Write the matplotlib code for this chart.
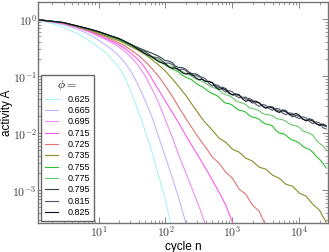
import matplotlib
matplotlib.use("Agg")
import matplotlib.pyplot as plt
from matplotlib.ticker import FuncFormatter
import numpy as np

plt.rcParams['mathtext.fontset'] = 'cm'
plt.rcParams['font.family'] = ['Liberation Sans', 'DejaVu Sans']

# cycle numbers (coarse grid, 10 per decade)
cycles = [1, 2, 3, 5, 7,
          10, 12.6, 15.8, 20, 25.1, 31.6, 39.8, 50.1, 63.1, 79.4,
          100, 126, 158, 200, 251, 316, 398, 501, 631, 794,
          1000, 1259, 1585, 1995, 2512, 3162, 3981, 5012, 6310, 7943,
          10000, 12589, 15849, 19953, 25119]
# finer grid (20 per decade after n=100) for the noisy curves
cycles_dense = [1, 2, 3, 5, 7,
                10, 12.6, 15.8, 20, 25.1, 31.6, 39.8, 50.1, 63.1, 79.4,
                100, 112, 126, 141, 158, 178, 200, 224, 251, 282, 316, 355,
                398, 447, 501, 562, 631, 708, 794, 891, 1000, 1122, 1259,
                1413, 1585, 1778, 1995, 2239, 2512, 2818, 3162, 3548, 3981,
                4467, 5012, 5623, 6310, 7079, 7943, 8913, 10000, 11220,
                12589, 14125, 15849, 17783, 19953, 22387, 25119]

phi_labels = ['0.625', '0.665', '0.695', '0.715', '0.725', '0.735',
              '0.755', '0.775', '0.795', '0.815', '0.825']

A_0625 = [1.0, 0.85, 0.72, 0.545, 0.428,
          0.323, 0.264, 0.199, 0.144, 0.0923, 0.0483, 0.0233, 0.0108, 0.00464,
          0.00176, 0.000668, 0.000199]
A_0665 = [1.0, 0.88, 0.80, 0.66, 0.55,
          0.428, 0.357, 0.292, 0.229, 0.169, 0.113, 0.0668, 0.0364, 0.0191,
          0.00851, 0.00379, 0.00169, 0.000724, 0.000275, 0.0000886]
A_0695 = [1.0, 0.90, 0.83, 0.70, 0.61,
          0.503, 0.446, 0.387, 0.329, 0.269, 0.207, 0.150, 0.100, 0.0591,
          0.0336, 0.0169, 0.00851, 0.00411, 0.00207, 0.00104, 0.000524,
          0.000243, 0.000108]
A_0715 = [1.0, 0.905, 0.84, 0.71, 0.62,
          0.524, 0.464, 0.411, 0.357, 0.304, 0.243, 0.191, 0.138, 0.0886,
          0.0568, 0.0364, 0.0233, 0.0150, 0.00923, 0.00592, 0.00379, 0.00243,
          0.00150, 0.000923, 0.000546, 0.000275, 0.000133]
A_0725 = [1.0, 0.91, 0.85, 0.72, 0.64,
          0.545, 0.493, 0.437, 0.387, 0.336, 0.280, 0.229, 0.180, 0.135,
          0.0981, 0.0668, 0.0446, 0.0286, 0.0183, 0.0122, 0.00817, 0.00568,
          0.00379, 0.00298, 0.00207, 0.00162, 0.00104, 0.000851, 0.000546,
          0.000428, 0.000234]
A_0735 = [1.0, 0.915, 0.86, 0.73, 0.655,
          0.568, 0.514, 0.464, 0.420, 0.372, 0.323, 0.280, 0.238, 0.195,
          0.156, 0.122, 0.0904, 0.0655, 0.0464, 0.0316, 0.0215, 0.0150,
          0.0113, 0.00817, 0.00695, 0.00524, 0.00464, 0.00364, 0.00323,
          0.00253, 0.00233, 0.00183, 0.00162, 0.00127, 0.00117, 0.000886,
          0.000785, 0.000568, 0.000446, 0.000275]
A_0755 = [1.0, 0.92, 0.87, 0.745, 0.675,
          0.591, 0.535, 0.483, 0.437, 0.387, 0.336, 0.292, 0.248, 0.211, 0.183,
          0.156, 0.146, 0.133, 0.127, 0.118, 0.104, 0.0960, 0.0915, 0.0851,
          0.0760, 0.0695, 0.0652, 0.0591, 0.0532, 0.0493, 0.0468, 0.0428,
          0.0370, 0.0336, 0.0330, 0.0310, 0.0275, 0.0253, 0.0246, 0.0233,
          0.0205, 0.0191, 0.0186, 0.0176, 0.0155, 0.0144, 0.0142, 0.0133,
          0.0112, 0.0100, 0.00985, 0.00923, 0.00810, 0.00754, 0.00725,
          0.00668, 0.00590, 0.00546, 0.00520, 0.00464, 0.00395, 0.00350,
          0.00300, 0.00243]
A_0775 = [1.0, 0.92, 0.87, 0.75, 0.68,
          0.603, 0.550, 0.501, 0.457, 0.403, 0.353, 0.305, 0.264, 0.220, 0.191,
          0.166, 0.152, 0.144, 0.137, 0.127, 0.121, 0.111, 0.106, 0.0981,
          0.0898, 0.0851, 0.0810, 0.0754, 0.0680, 0.0641, 0.0612, 0.0568,
          0.0505, 0.0474, 0.0455, 0.0420, 0.0372, 0.0350, 0.0338, 0.0316,
          0.0280, 0.0269, 0.0262, 0.0248, 0.0222, 0.0211, 0.0210, 0.0203,
          0.0182, 0.0176, 0.0172, 0.0162, 0.0145, 0.0138, 0.0135, 0.0127,
          0.0110, 0.0104, 0.0100, 0.00923, 0.00760, 0.00668, 0.00600,
          0.00503]
A_0795 = [1.0, 0.92, 0.87, 0.75, 0.68,
          0.603, 0.550, 0.501, 0.457, 0.403, 0.353, 0.314, 0.280, 0.252, 0.223,
          0.187, 0.184, 0.173, 0.150, 0.142, 0.141, 0.133, 0.118, 0.110,
          0.110, 0.103, 0.088, 0.0801, 0.0812, 0.0775, 0.0680, 0.0629,
          0.0640, 0.0607, 0.0520, 0.0464, 0.0475, 0.0456, 0.0420, 0.0430,
          0.0370, 0.0336, 0.0350, 0.0336, 0.0295, 0.0272, 0.0290, 0.0290,
          0.0258, 0.0242, 0.0256, 0.0250, 0.0212, 0.0193, 0.0205, 0.0198,
          0.0176, 0.0168, 0.0180, 0.0171, 0.0148, 0.0135, 0.0138, 0.0130]
A_0815 = [1.0, 0.92, 0.87, 0.75, 0.68,
          0.603, 0.550, 0.501, 0.457, 0.403, 0.353, 0.299, 0.269, 0.220, 0.207,
          0.168, 0.170, 0.160, 0.138, 0.127, 0.133, 0.126, 0.110, 0.102,
          0.104, 0.0971, 0.0960, 0.0899, 0.0740, 0.0675, 0.0712, 0.0679,
          0.0580, 0.0524, 0.0560, 0.0531, 0.0450, 0.0417, 0.0425, 0.0396,
          0.0410, 0.0381, 0.0320, 0.0295, 0.0318, 0.0309, 0.0268, 0.0253,
          0.0274, 0.0266, 0.0225, 0.0210, 0.0228, 0.0221, 0.0190, 0.0181,
          0.0194, 0.0186, 0.0160, 0.0147, 0.0158, 0.0152, 0.0125, 0.0118]
A_0825 = [1.0, 0.92, 0.87, 0.75, 0.68,
          0.603, 0.550, 0.501, 0.457, 0.403, 0.349, 0.293, 0.246, 0.218, 0.179,
          0.164, 0.145, 0.137, 0.140, 0.131, 0.115, 0.109, 0.112, 0.107,
          0.094, 0.0869, 0.0880, 0.0817, 0.0800, 0.0761, 0.0640, 0.0585,
          0.0610, 0.0574, 0.0500, 0.0473, 0.0490, 0.0473, 0.0400, 0.0361,
          0.0382, 0.0360, 0.0365, 0.0342, 0.0300, 0.0277, 0.0290, 0.0277,
          0.0245, 0.0230, 0.0248, 0.0236, 0.0215, 0.0209, 0.0222, 0.0206,
          0.0178, 0.0164, 0.0172, 0.0163, 0.0146, 0.0139, 0.0145, 0.0135]

series = [A_0625, A_0665, A_0695, A_0715, A_0725, A_0735,
          A_0755, A_0775, A_0795, A_0815, A_0825]
colors = ['#a8f4f0', '#c4b4ff', '#f08cf4', '#ff5cf0', '#e07474', '#8c8c28',
          '#2cc02c', '#6cc86c', '#2c4848', '#58586c', '#10101e']

fig = plt.figure(figsize=(3.29, 2.52), dpi=100)
ax = fig.add_axes([0.1164, 0.1131, 0.8796, 0.879])

for vals, c, lab in zip(series, colors, phi_labels):
    xs = cycles_dense if len(vals) == len(cycles_dense) else cycles[:len(vals)]
    ax.plot(xs, vals, color=c, lw=0.8, label=lab)

ax.set_xscale('log')
ax.set_yscale('log')
ax.set_xlim(1.26, 2.65e4)
ax.set_ylim(2.6e-4, 2.0)

fmt = FuncFormatter(lambda v, p: r'$10^{%d}$' % int(round(np.log10(v))))
ax.xaxis.set_major_formatter(fmt)
ax.yaxis.set_major_formatter(fmt)

for s in ax.spines.values():
    s.set_color('0.45')
    s.set_linewidth(1.0)
ax.tick_params(which='both', direction='in', top=True, right=True,
               colors='0.45', labelcolor='0.25', labelsize=8.5)
ax.tick_params(which='major', length=4, width=0.6)
ax.tick_params(which='minor', length=2, width=0.5)
ax.tick_params(axis='x', pad=1)
ax.tick_params(axis='y', pad=1)

ax.set_xlabel('cycle n', fontsize=8.5)
ax.set_ylabel('activity A', fontsize=8.5)
ax.xaxis.set_label_coords(0.5, -0.078)
ax.yaxis.set_label_coords(-0.088, 0.5)

leg = ax.legend(loc='lower left', title=r'$\phi=$', fontsize=6.5,
                title_fontsize=8.5, labelspacing=0.26, handlelength=1.5,
                handletextpad=1.0, borderaxespad=0.3, fancybox=False,
                framealpha=1.0, borderpad=0.4)
leg.get_frame().set_edgecolor('0.4')
leg.get_frame().set_linewidth(1.0)

fig.savefig('out.png', dpi=100)
